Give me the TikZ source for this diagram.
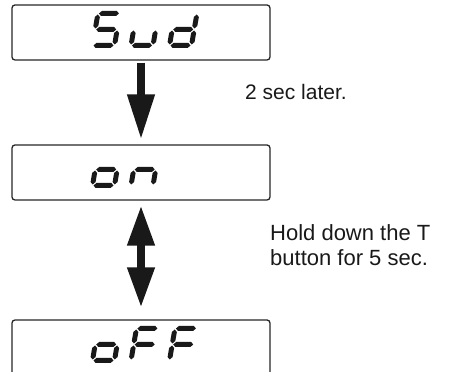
\documentclass[tikz,border=0pt]{standalone}
\usepackage{fontspec}
\setmainfont{Liberation Sans}
\usetikzlibrary{arrows.meta}
\tikzset{
  lcdbox/.style={draw=black!85, line width=1.3pt, rounded corners=3pt, minimum width=258pt, minimum height=55pt, inner sep=0pt},
  lcdseg/.style={fill=black!90},
  bigarrow/.style={line width=7.5pt, black!90},
  note/.style={font=\fontsize{22}{25}\selectfont, text=black!90, align=left, inner sep=0pt, anchor=west}
}
\newcommand\lcdsa{\fill[lcdseg] (1,32) -- (3.5,34.5) -- (18.5,34.5) -- (21,32) -- (18.5,29.5) -- (3.5,29.5) -- cycle;}
\newcommand\lcdsg{\fill[lcdseg] (1,16) -- (3.5,18.5) -- (18.5,18.5) -- (21,16) -- (18.5,13.5) -- (3.5,13.5) -- cycle;}
\newcommand\lcdsd{\fill[lcdseg] (1,0) -- (3.5,2.5) -- (18.5,2.5) -- (21,0) -- (18.5,-2.5) -- (3.5,-2.5) -- cycle;}
\newcommand\lcdsf{\fill[lcdseg] (0,17) -- (2.5,19.5) -- (2.5,28.5) -- (0,31) -- (-2.5,28.5) -- (-2.5,19.5) -- cycle;}
\newcommand\lcdse{\fill[lcdseg] (0,1) -- (2.5,3.5) -- (2.5,12.5) -- (0,15) -- (-2.5,12.5) -- (-2.5,3.5) -- cycle;}
\newcommand\lcdsb{\fill[lcdseg] (22,17) -- (24.5,19.5) -- (24.5,28.5) -- (22,31) -- (19.5,28.5) -- (19.5,19.5) -- cycle;}
\newcommand\lcdsc{\fill[lcdseg] (22,1) -- (24.5,3.5) -- (24.5,12.5) -- (22,15) -- (19.5,12.5) -- (19.5,3.5) -- cycle;}
\newcommand\lcddigit[3]{%
  \begin{scope}[shift={(#1,#2)}, xslant=0.17]
    \foreach \s in {#3}{\csname lcds\s\endcsname}
  \end{scope}}
\begin{document}
\begin{tikzpicture}[x=1pt, y=1pt]
  \useasboundingbox (0,0) rectangle (456,372);
  \clip (0,0) rectangle (456,372);
  % boxes
  \node[lcdbox] (b1) at (141,339.5) {};
  \node[lcdbox] (b2) at (141,199.5) {};
  \node[lcdbox] (b3) at (141,24.5) {};
  % digits: Sud
  \lcddigit{92.5}{326.5}{a,f,g,c,d}
  \lcddigit{131}{326.5}{e,d,c}
  \lcddigit{169.5}{326.5}{b,c,d,e,g}
  % on
  \lcddigit{92.5}{186.5}{g,c,d,e}
  \lcddigit{131}{186.5}{g,e,c}
  % oFF
  \lcddigit{92.5}{11.5}{g,c,d,e}
  \lcddigit{131}{11.5}{a,f,g,e}
  \lcddigit{169.5}{11.5}{a,f,g,e}
  % arrows
  \draw[bigarrow, -{Triangle[width=26pt, length=45pt]}, shorten <=2pt, shorten >=5pt] (b1.south) -- (b2.north);
  \draw[bigarrow, {Triangle[width=26pt, length=40pt]}-{Triangle[width=26pt, length=40pt]}, shorten <=5pt, shorten >=12pt] (b2.south) -- (b3.north);
  % notes
  \node[note, font=\fontsize{21}{24}\selectfont] (t1) at (245,280) {2 sec later.};
  \node[note] (t2) at (270,127) {Hold down the T\\button for 5 sec.};
\end{tikzpicture}
\end{document}
